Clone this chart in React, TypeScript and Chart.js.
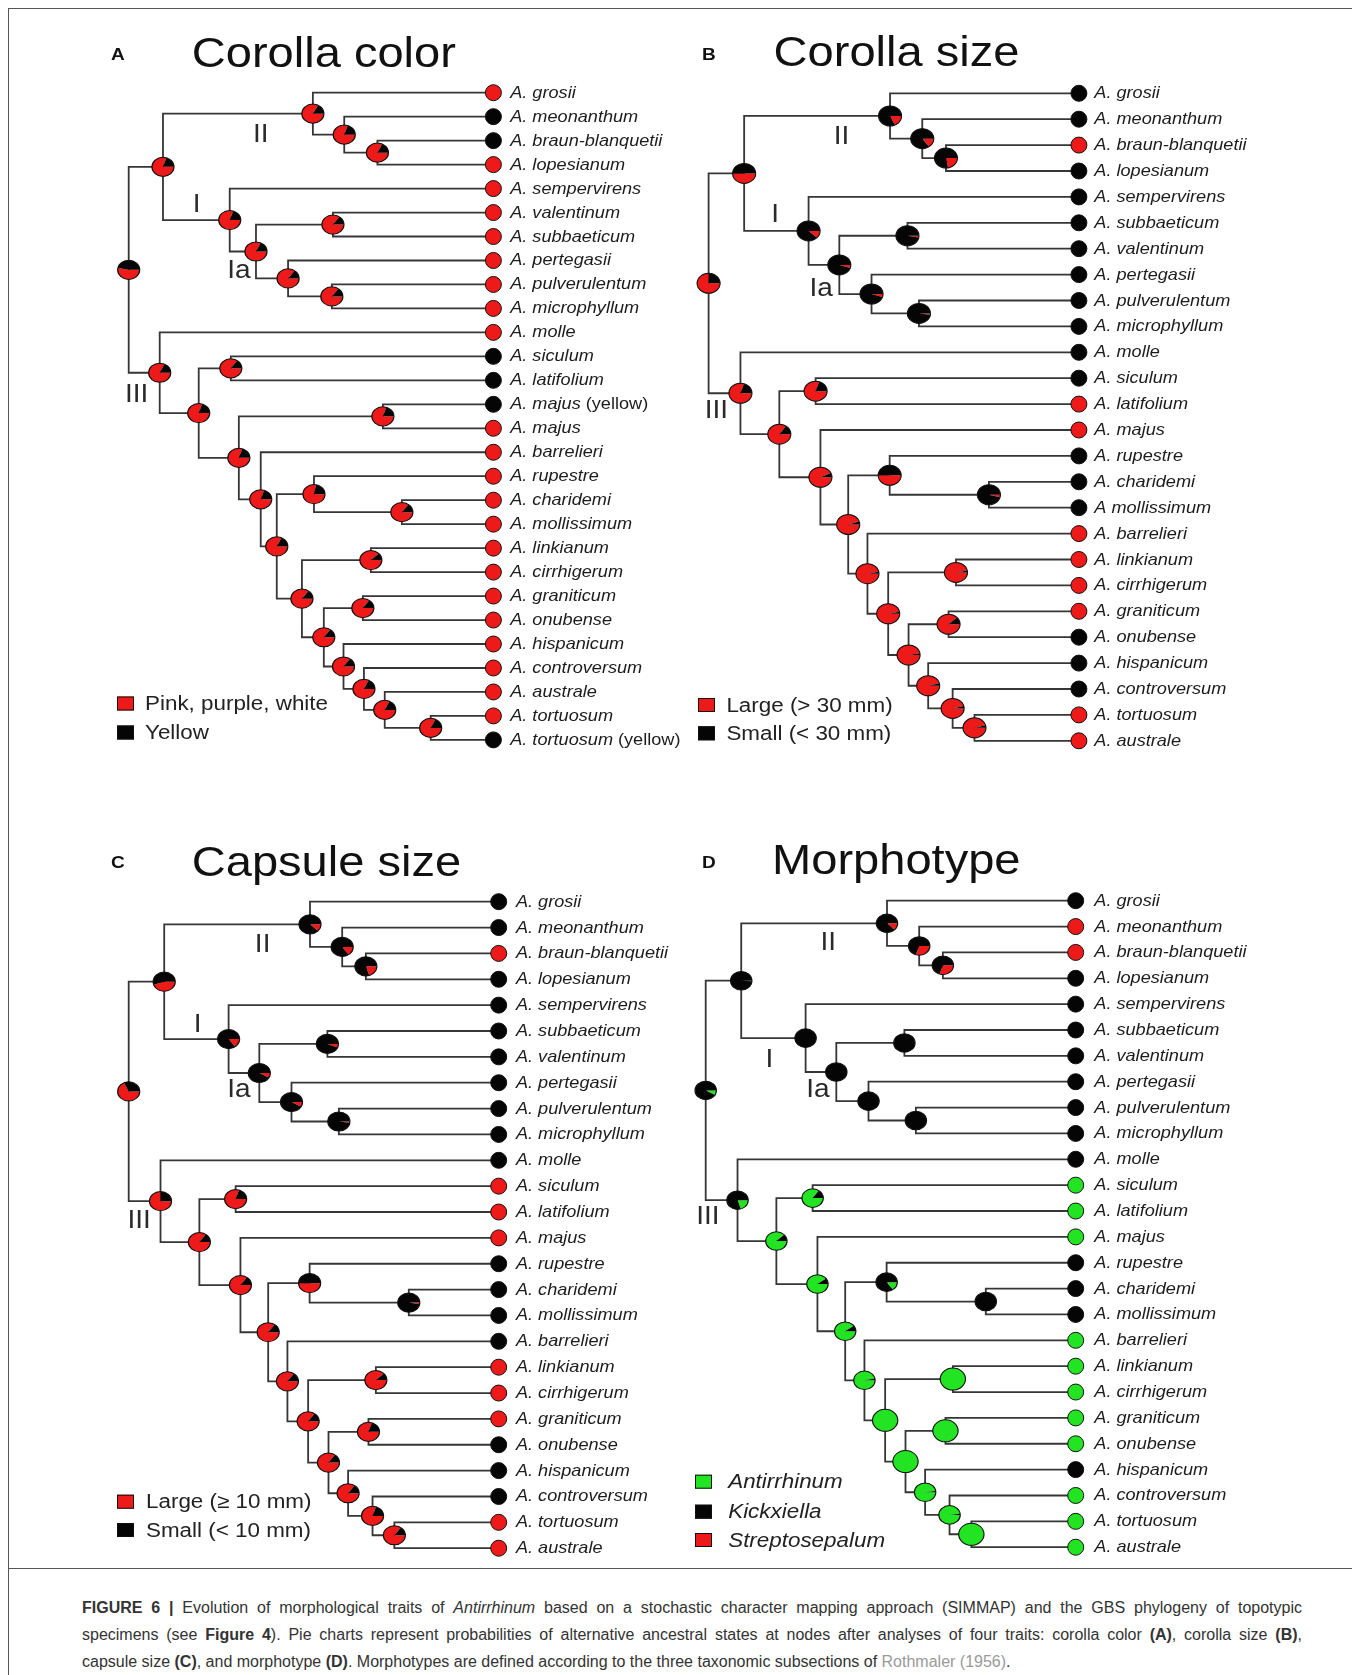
import React, { useEffect, useRef } from 'react';
import { Chart, registerables } from 'chart.js';

Chart.register(...registerables);

const RED = '#ee1a1a';
const BLACK = '#050505';
const GREEN = '#22e422';
const EDGE = '#363636';
const FONT = '"Liberation Sans", Arial, Helvetica, sans-serif';
const TEXT_STRETCH = 1.12;
const PIE_STRETCH = 1.15;

// ---------------- Tree 1 (panel A, 28 tips) ----------------
const tipsA = ['A. grosii', 'A. meonanthum', 'A. braun-blanquetii', 'A. lopesianum', 'A. sempervirens', 'A. valentinum', 'A. subbaeticum', 'A. pertegasii', 'A. pulverulentum', 'A. microphyllum', 'A. molle', 'A. siculum', 'A. latifolium', 'A. majus (yellow)', 'A. majus', 'A. barrelieri', 'A. rupestre', 'A. charidemi', 'A. mollissimum', 'A. linkianum', 'A. cirrhigerum', 'A. graniticum', 'A. onubense', 'A. hispanicum', 'A. controversum', 'A. australe', 'A. tortuosum', 'A. tortuosum (yellow)'];
// 0 = pink/purple/white, 1 = yellow
const tipStateA = [0, 1, 1, 0, 0, 0, 0, 0, 0, 0, 0, 1, 1, 1, 0, 0, 0, 0, 0, 0, 0, 0, 0, 0, 0, 0, 0, 1];
const nodeIdsA = ['root', 'n12', 'n2', 'nMe', 'nBL', 'n1', 'n1a', 'nVS', 'nPe', 'nPM', 'n3', 'nA', 'nSL', 'nB', 'nMJ', 'nC', 'nD', 'nR', 'nCM', 'nE', 'nLC', 'nF', 'nGO', 'nG', 'nH', 'nI', 'nTT'];
const nodeKidsA = [['n12', 'n3'], ['n2', 'n1'], ['t1', 'nMe'], ['t2', 'nBL'], ['t3', 't4'], ['t5', 'n1a'], ['nVS', 'nPe'], ['t6', 't7'], ['t8', 'nPM'], ['t9', 't10'], ['t11', 'nA'], ['nSL', 'nB'], ['t12', 't13'], ['nMJ', 'nC'], ['t14', 't15'], ['t16', 'nD'], ['nR', 'nE'], ['t17', 'nCM'], ['t18', 't19'], ['nLC', 'nF'], ['t20', 't21'], ['nGO', 'nG'], ['t22', 't23'], ['t24', 'nH'], ['t25', 'nI'], ['t26', 'nTT'], ['t27', 't28']];
const nodeDepthA = [0, 0.094, 0.505, 0.591, 0.682, 0.277, 0.349, 0.56, 0.437, 0.557, 0.085, 0.192, 0.28, 0.302, 0.697, 0.362, 0.406, 0.508, 0.749, 0.475, 0.664, 0.535, 0.642, 0.589, 0.645, 0.702, 0.828];
const pieYellowA = [0.47, 0.2, 0.17, 0.2, 0.18, 0.2, 0.18, 0.15, 0.15, 0.15, 0.18, 0.2, 0.15, 0.2, 0.2, 0.2, 0.18, 0.22, 0.15, 0.15, 0.12, 0.15, 0.15, 0.15, 0.18, 0.18, 0.18];

// ---------------- Tree 2 (panels B, C, D, 26 tips) ----------------
const tipsB = ['A. grosii', 'A. meonanthum', 'A. braun-blanquetii', 'A. lopesianum', 'A. sempervirens', 'A. subbaeticum', 'A. valentinum', 'A. pertegasii', 'A. pulverulentum', 'A. microphyllum', 'A. molle', 'A. siculum', 'A. latifolium', 'A. majus', 'A. rupestre', 'A. charidemi', 'A mollissimum', 'A. barrelieri', 'A. linkianum', 'A. cirrhigerum', 'A. graniticum', 'A. onubense', 'A. hispanicum', 'A. controversum', 'A. tortuosum', 'A. australe'];
const tipsCD = ['A. grosii', 'A. meonanthum', 'A. braun-blanquetii', 'A. lopesianum', 'A. sempervirens', 'A. subbaeticum', 'A. valentinum', 'A. pertegasii', 'A. pulverulentum', 'A. microphyllum', 'A. molle', 'A. siculum', 'A. latifolium', 'A. majus', 'A. rupestre', 'A. charidemi', 'A. mollissimum', 'A. barrelieri', 'A. linkianum', 'A. cirrhigerum', 'A. graniticum', 'A. onubense', 'A. hispanicum', 'A. controversum', 'A. tortuosum', 'A. australe'];
const nodeIdsB = ['root', 'n12', 'n2', 'nMe', 'nBL', 'n1', 'n1a', 'nVS', 'nPe', 'nPM', 'n3', 'nA', 'nSL', 'nB', 'nC', 'nR', 'nCM', 'nD', 'nE', 'nLC', 'nF', 'nGO', 'nG', 'nH', 'nTT'];
const nodeKidsB = [['n12', 'n3'], ['n2', 'n1'], ['t1', 'nMe'], ['t2', 'nBL'], ['t3', 't4'], ['t5', 'n1a'], ['nVS', 'nPe'], ['t6', 't7'], ['t8', 'nPM'], ['t9', 't10'], ['t11', 'nA'], ['nSL', 'nB'], ['t12', 't13'], ['t14', 'nC'], ['nR', 'nD'], ['t15', 'nCM'], ['t16', 't17'], ['t18', 'nE'], ['nLC', 'nF'], ['t19', 't20'], ['nGO', 'nG'], ['t21', 't22'], ['t23', 'nH'], ['t24', 'nTT'], ['t25', 't26']];
const nodeDepthB = [0, 0.096, 0.49, 0.577, 0.641, 0.27, 0.353, 0.537, 0.44, 0.568, 0.086, 0.191, 0.289, 0.302, 0.377, 0.489, 0.757, 0.429, 0.485, 0.668, 0.54, 0.648, 0.593, 0.659, 0.718];

// Panel B: corolla size (0 = large, 1 = small)
const tipStateB = [1, 1, 0, 1, 1, 1, 1, 1, 1, 1, 1, 1, 0, 0, 1, 1, 1, 0, 0, 0, 0, 1, 1, 1, 0, 0];
const pieLargeB = [0.75, 0.5, 0.18, 0.15, 0.22, 0.12, 0.05, 0.03, 0.05, 0.02, 0.8, 0.85, 0.8, 0.93, 0.95, 0.5, 0.04, 0.97, 0.97, 0.97, 0.97, 0.88, 0.96, 0.96, 0.96];

// Panel C: capsule size (0 = large, 1 = small)
const tipStateC = [1, 1, 0, 1, 1, 1, 1, 1, 1, 1, 1, 0, 0, 0, 1, 1, 1, 1, 0, 0, 0, 1, 1, 1, 0, 0];
const pieLargeC = [0.68, 0.45, 0.12, 0.15, 0.2, 0.15, 0.08, 0.06, 0.08, 0.02, 0.75, 0.85, 0.8, 0.85, 0.85, 0.5, 0.03, 0.85, 0.85, 0.88, 0.85, 0.8, 0.85, 0.8, 0.85];

// Panel D: morphotype (0 = Antirrhinum, 1 = Streptosepalum, 2 = Kickxiella)
const tipStateD = [2, 1, 1, 2, 2, 2, 2, 2, 2, 2, 2, 0, 0, 0, 2, 2, 2, 0, 0, 0, 0, 0, 2, 0, 0, 0];
const pieAntirrhinumD = [0.08, 0.01, 0, 0, 0, 0, 0, 0, 0, 0, 0.2, 0.88, 0.85, 0.9, 0.9, 0.15, 0, 0.97, 1, 1, 1, 1, 0.98, 0.98, 1];
const pieStreptosepalumD = [0, 0, 0.12, 0.3, 0.3, 0, 0, 0, 0, 0, 0, 0, 0, 0, 0, 0, 0, 0, 0, 0, 0, 0, 0, 0, 0];
const pieKickxiellaD = [0.92, 0.99, 0.88, 0.7, 0.7, 1, 1, 1, 1, 1, 0.8, 0.12, 0.15, 0.1, 0.1, 0.85, 1, 0.03, 0, 0, 0, 0, 0.02, 0.02, 0];

const cladeNames = ['II', 'I', 'Ia', 'III'];

type Panel = {
  letter: string; title: string;
  tips: string[]; tipState: number[]; colors: string[];
  nodeIds: string[]; nodeKids: string[][]; nodeDepth: number[];
  pies: number[][];
  box: { left: number; top: number; width: number; height: number };
  rootX: number; tipX: number; tip1Y: number; step: number; labelDx: number;
  tipR: number; pieR: number; bigNodes?: string[]; bigR?: number;
  titlePos: [number, number]; letterPos: [number, number];
  cladePos: number[][];
  legend: { sqX: number; textX: number; rows: number[]; font: string; items: { color: string; label: string }[] };
};

const PANELS: Panel[] = [
  {
    letter: 'A', title: 'Corolla color', tips: tipsA, tipState: tipStateA, colors: [RED, BLACK],
    nodeIds: nodeIdsA, nodeKids: nodeKidsA, nodeDepth: nodeDepthA,
    pies: pieYellowA.map((y) => [1 - y, y]),
    box: { left: 10, top: 10, width: 670, height: 770 },
    rootX: 128.7, tipX: 493.4, tip1Y: 92.7, step: 23.97, labelDx: 16.8, tipR: 8, pieR: 9.6,
    titlePos: [191.8, 66.5], letterPos: [111, 60],
    cladePos: [[0.362, 2.72], [0.186, 5.65], [0.302, 8.4], [0.022, 13.57]],
    legend: { sqX: 117, textX: 145, rows: [703.5, 732.5], font: `20px ${FONT}`, items: [{ color: RED, label: 'Pink, purple, white' }, { color: BLACK, label: 'Yellow' }] },
  },
  {
    letter: 'B', title: 'Corolla size', tips: tipsB, tipState: tipStateB, colors: [RED, BLACK],
    nodeIds: nodeIdsB, nodeKids: nodeKidsB, nodeDepth: nodeDepthB,
    pies: pieLargeB.map((p) => [p, 1 - p]),
    box: { left: 680, top: 10, width: 670, height: 770 },
    rootX: 708.6, tipX: 1078.9, tip1Y: 93.3, step: 25.9, labelDx: 15.4, tipR: 8, pieR: 10,
    titlePos: [773.6, 66], letterPos: [702, 60],
    cladePos: [[0.359, 2.65], [0.18, 5.66], [0.304, 8.52], [0.021, 13.23]],
    legend: { sqX: 698, textX: 726.4, rows: [705, 733.3], font: `20px ${FONT}`, items: [{ color: RED, label: 'Large (> 30 mm)' }, { color: BLACK, label: 'Small (< 30 mm)' }] },
  },
  {
    letter: 'C', title: 'Capsule size', tips: tipsCD, tipState: tipStateC, colors: [RED, BLACK],
    nodeIds: nodeIdsB, nodeKids: nodeKidsB, nodeDepth: nodeDepthB,
    pies: pieLargeC.map((p) => [p, 1 - p]),
    box: { left: 10, top: 790, width: 670, height: 775 },
    rootX: 128.7, tipX: 498.7, tip1Y: 901.7, step: 25.86, labelDx: 17.2, tipR: 8, pieR: 9.6,
    titlePos: [191.8, 876], letterPos: [111, 868],
    cladePos: [[0.362, 2.64], [0.186, 5.73], [0.298, 8.25], [0.028, 13.31]],
    legend: { sqX: 117, textX: 146, rows: [1501.7, 1530], font: `20px ${FONT}`, items: [{ color: RED, label: 'Large (\u2265 10 mm)' }, { color: BLACK, label: 'Small (< 10 mm)' }] },
  },
  {
    letter: 'D', title: 'Morphotype', tips: tipsCD, tipState: tipStateD, colors: [GREEN, RED, BLACK],
    nodeIds: nodeIdsB, nodeKids: nodeKidsB, nodeDepth: nodeDepthB,
    pies: pieAntirrhinumD.map((g, i) => [g, pieStreptosepalumD[i], pieKickxiellaD[i]]),
    box: { left: 680, top: 790, width: 670, height: 775 },
    rootX: 705.7, tipX: 1075.7, tip1Y: 900.7, step: 25.86, labelDx: 18.6, tipR: 8, pieR: 9.3,
    bigNodes: ['nE', 'nLC', 'nF', 'nGO', 'nTT'], bigR: 11,
    titlePos: [772.1, 874], letterPos: [702, 868],
    cladePos: [[0.331, 2.6], [0.172, 7.12], [0.303, 8.28], [0.006, 13.19]],
    legend: { sqX: 695, textX: 728.2, rows: [1481.7, 1511.7, 1540], font: `italic 20px ${FONT}`, items: [{ color: GREEN, label: 'Antirrhinum' }, { color: BLACK, label: 'Kickxiella' }, { color: RED, label: 'Streptosepalum' }] },
  },
];

function layoutTree(ids: string[], kids: string[][], depth: number[]) {
  const idx = new Map(ids.map((id, i) => [id, i] as [string, number]));
  const cache = new Map<string, number>();
  const posY = (c: string): number => {
    if (c[0] === 't') return Number(c.slice(1));
    if (cache.has(c)) return cache.get(c) as number;
    const k = kids[idx.get(c) as number];
    const v = (posY(k[0]) + posY(k[k.length - 1])) / 2;
    cache.set(c, v);
    return v;
  };
  const posX = (c: string): number => (c[0] === 't' ? 1 : depth[idx.get(c) as number]);
  return { posX, posY };
}

function drawPie(ctx: CanvasRenderingContext2D, cx: number, cy: number, r: number, probs: number[], colors: string[]) {
  const tot = probs.reduce((a, b) => a + b, 0) || 1;
  ctx.save();
  ctx.translate(cx, cy);
  ctx.scale(PIE_STRETCH, 1);
  let a = 0;
  probs.forEach((p, i) => {
    if (p <= 0) return;
    const a1 = a + (p / tot) * Math.PI * 2;
    ctx.beginPath();
    ctx.moveTo(0, 0);
    ctx.arc(0, 0, r, a, a1);
    ctx.closePath();
    ctx.fillStyle = colors[i];
    ctx.fill();
    a = a1;
  });
  ctx.beginPath();
  ctx.arc(0, 0, r, 0, Math.PI * 2);
  ctx.lineWidth = 1;
  ctx.strokeStyle = '#111';
  ctx.stroke();
  ctx.restore();
}

function wideText(ctx: CanvasRenderingContext2D, text: string, x: number, y: number) {
  ctx.save();
  ctx.translate(x, y);
  ctx.scale(TEXT_STRETCH, 1);
  ctx.fillText(text, 0, 0);
  ctx.restore();
  return ctx.measureText(text).width * TEXT_STRETCH;
}

function TreePanel({ cfg }: { cfg: Panel }) {
  const ref = useRef<HTMLCanvasElement>(null);
  useEffect(() => {
    const g = cfg;
    const canvas = ref.current;
    if (!canvas) return;
    const { posX, posY } = layoutTree(g.nodeIds, g.nodeKids, g.nodeDepth);
    const span = g.tipX - g.rootX;
    const xMin = -(g.rootX - g.box.left) / span;
    const xMax = 1 + (g.box.left + g.box.width - g.tipX) / span;
    const yMin = 1 - (g.tip1Y - g.box.top) / g.step;
    const yMax = 1 + (g.box.top + g.box.height - g.tip1Y) / g.step;

    const edgeSets = g.nodeIds.map((id, k) => {
      const [a, b] = g.nodeKids[k];
      const d = g.nodeDepth[k];
      return {
        type: 'scatter' as const,
        label: id,
        data: [
          { x: posX(a), y: posY(a) },
          { x: d, y: posY(a) },
          { x: d, y: posY(b) },
          { x: posX(b), y: posY(b) },
        ],
        showLine: true,
        borderColor: EDGE,
        borderWidth: 1.8,
        borderJoinStyle: 'miter' as const,
        borderCapStyle: 'butt' as const,
        pointRadius: 0,
        pointHoverRadius: 0,
        tension: 0,
        fill: false,
        order: 2,
      };
    });
    const tipColors = g.tipState.map((s) => g.colors[s]);
    const tipSet = {
      type: 'scatter' as const,
      label: 'tips',
      data: g.tips.map((_, i) => ({ x: 1, y: i + 1 })),
      showLine: false,
      pointRadius: g.tipR,
      pointHoverRadius: g.tipR,
      backgroundColor: tipColors,
      pointBackgroundColor: tipColors,
      borderColor: '#111',
      pointBorderColor: '#111',
      borderWidth: 1,
      pointBorderWidth: 1,
      order: 0,
    };

    const ox = g.box.left;
    const oy = g.box.top;
    const decor = {
      id: 'treeDecor' + g.letter,
      afterDatasetsDraw(chart: any) {
        const ctx: CanvasRenderingContext2D = chart.ctx;
        const xs = chart.scales.x;
        const ys = chart.scales.y;
        ctx.save();
        // node pies
        g.nodeIds.forEach((id, k) => {
          const cx = xs.getPixelForValue(g.nodeDepth[k]);
          const cy = ys.getPixelForValue(posY(id));
          const r = g.bigNodes && g.bigNodes.includes(id) ? (g.bigR as number) : g.pieR;
          drawPie(ctx, cx, cy, r, g.pies[k], g.colors);
        });
        // tip labels
        ctx.fillStyle = '#1c1c1c';
        ctx.textBaseline = 'middle';
        ctx.textAlign = 'left';
        g.tips.forEach((name, i) => {
          const x = xs.getPixelForValue(1) + g.labelDx;
          const y = ys.getPixelForValue(i + 1) + 0.5;
          const m = name.match(/^(.*?)( \(yellow\))$/);
          const main = m ? m[1] : name;
          ctx.font = `italic 16.2px ${FONT}`;
          const w = wideText(ctx, main, x, y);
          if (m) {
            ctx.font = `16.2px ${FONT}`;
            wideText(ctx, m[2], x + w, y);
          }
        });
        // clade labels
        ctx.font = `25px ${FONT}`;
        ctx.textAlign = 'center';
        ctx.fillStyle = '#2a2a2a';
        g.cladePos.forEach((p, i) => {
          wideText(ctx, cladeNames[i], xs.getPixelForValue(p[0]), ys.getPixelForValue(p[1]) + 1);
        });
        // title and panel letter
        ctx.textAlign = 'left';
        ctx.textBaseline = 'alphabetic';
        ctx.fillStyle = '#111';
        ctx.font = `42px ${FONT}`;
        wideText(ctx, g.title, g.titlePos[0] - ox, g.titlePos[1] - oy);
        ctx.font = `bold 17px ${FONT}`;
        wideText(ctx, g.letter, g.letterPos[0] - ox, g.letterPos[1] - oy);
        // legend
        const L = g.legend;
        L.items.forEach((it, i) => {
          const cy = L.rows[i] - oy;
          const sx = L.sqX - ox;
          ctx.fillStyle = it.color;
          ctx.fillRect(sx, cy - 7, 17, 14);
          ctx.lineWidth = 1;
          ctx.strokeStyle = '#111';
          ctx.strokeRect(sx + 0.5, cy - 6.5, 16, 13);
          ctx.fillStyle = '#222';
          ctx.font = L.font;
          ctx.textBaseline = 'middle';
          wideText(ctx, it.label, L.textX - ox, cy + 1);
        });
        ctx.restore();
      },
    };

    const chart = new Chart(canvas, {
      type: 'scatter',
      data: { datasets: [tipSet as any, ...(edgeSets as any[])] },
      options: {
        animation: false,
        responsive: false,
        maintainAspectRatio: false,
        devicePixelRatio: 1,
        events: [],
        layout: { padding: 0, autoPadding: false },
        plugins: { legend: { display: false }, tooltip: { enabled: false }, title: { display: false } },
        scales: {
          x: { type: 'linear', min: xMin, max: xMax, display: false },
          y: { type: 'linear', min: yMin, max: yMax, reverse: true, display: false },
        },
      },
      plugins: [decor as any],
    });
    return () => chart.destroy();
  }, [cfg]);
  return (
    <canvas
      ref={ref}
      width={cfg.box.width}
      height={cfg.box.height}
      style={{ position: 'absolute', left: cfg.box.left - 8, top: cfg.box.top - 8, width: cfg.box.width, height: cfg.box.height }}
    />
  );
}

function Caption() {
  const line: React.CSSProperties = { textAlign: 'justify', textAlignLast: 'justify' as any, whiteSpace: 'nowrap' };
  return (
    <div style={{ position: 'absolute', left: 74, top: 1586, width: 1220, font: `16px ${FONT}`, color: '#333', lineHeight: '27px' }}>
      <div style={line}><b>FIGURE 6 |</b> Evolution of morphological traits of <i>Antirrhinum</i> based on a stochastic character mapping approach (SIMMAP) and the GBS phylogeny of topotypic</div>
      <div style={line}>specimens (see <b>Figure 4</b>). Pie charts represent probabilities of alternative ancestral states at nodes after analyses of four traits: corolla color <b>(A)</b>, corolla size <b>(B)</b>,</div>
      <div style={{ whiteSpace: 'nowrap' }}>capsule size <b>(C)</b>, and morphotype <b>(D)</b>. Morphotypes are defined according to the three taxonomic subsections of <span style={{ color: '#9a9a9a' }}>Rothmaler (1956)</span>.</div>
    </div>
  );
}

export default function App() {
  useEffect(() => {
    document.documentElement.style.overflow = 'hidden';
    document.body.style.overflow = 'hidden';
  }, []);
  return (
    <div style={{ position: 'relative', width: 1347, height: 1667, overflow: 'hidden', background: '#fff' }}>
      <div style={{ position: 'absolute', left: 0, top: 0, width: 1345, height: 1700, border: '1px solid #555' }} />
      <div style={{ position: 'absolute', left: 0, top: 1560, width: 1347, height: 1, background: '#555' }} />
      {PANELS.map((p) => (
        <TreePanel key={p.letter} cfg={p} />
      ))}
      <Caption />
    </div>
  );
}
